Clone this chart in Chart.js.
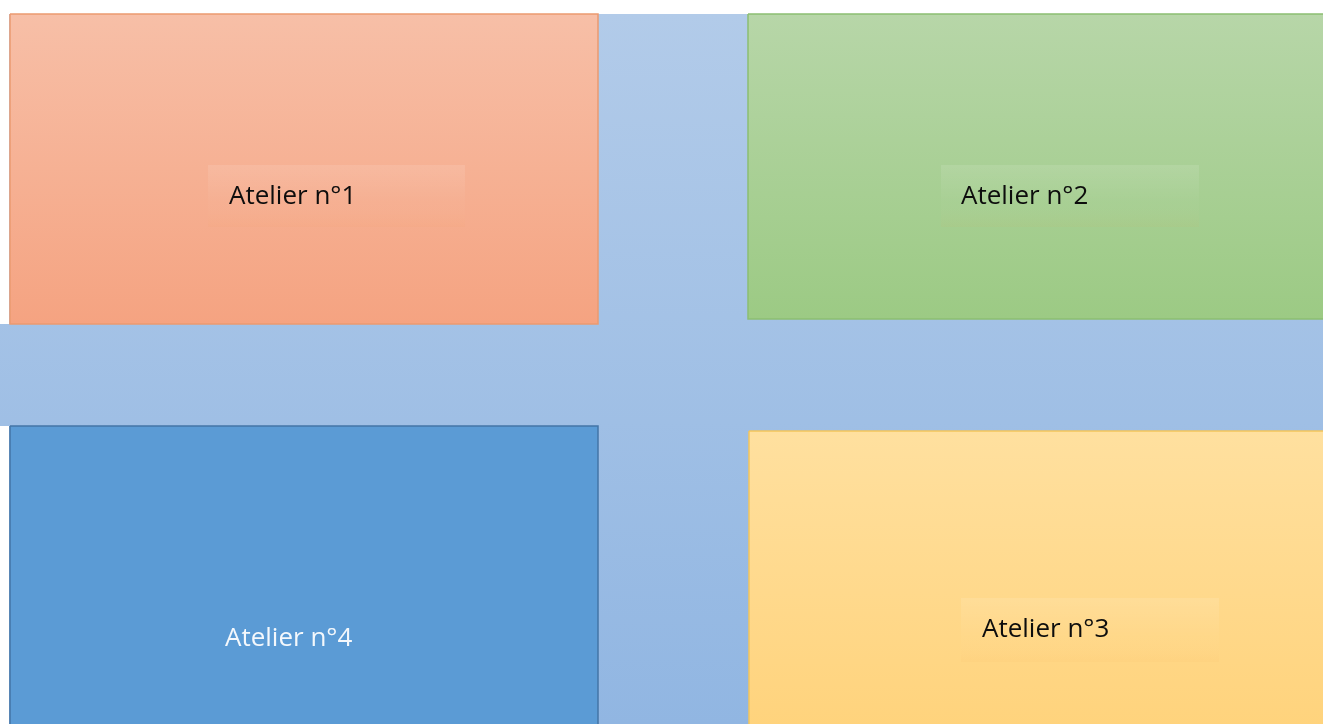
<!DOCTYPE html>
<html>
<head>
<meta charset="utf-8">
<script src="https://cdn.jsdelivr.net/npm/chart.js@4"></script>
<style>
html,body{margin:0;padding:0;background:#ffffff;}
#wrap{width:1323px;height:724px;position:relative;}
</style>
</head>
<body>
<div id="wrap"><canvas id="c" width="1323" height="724"></canvas></div>
<script>
// ---- data (diagram units, origin top-left) ----
const workshops   = ['Atelier n°1', 'Atelier n°2', 'Atelier n°3', 'Atelier n°4'];
const blockLeft   = [10, 748, 749, 10];
const blockRight  = [598, 1328, 1328, 598];
const blockTop    = [14, 14, 431, 426];
const blockBottom = [324, 319, 730, 730];
const labelLeft   = [208, 941, 961, null];
const labelRight  = [465, 1199, 1219, null];
const labelTop    = [165, 165, 598, null];
const labelBottom = [227, 227, 662, null];
const textX       = [229, 961, 982, 225];
const textY       = [204, 204, 637, 646];
const areaLeft = 0, areaRight = 1323, areaTop = 14, areaBottom = 724;

// ---- styles ----
const fillTop    = ['#f7bfa7', '#b7d6a8', '#ffe09f', '#5b9bd5'];
const fillBottom = ['#f5a381', '#9cca84', '#ffd37c', '#5b9bd5'];
const strokes    = ['#ec9a70', '#8cbf72', '#f3c55c', '#4475a6'];
const textColors = ['#0d0d0d', '#0d0d0d', '#0d0d0d', '#f4f8fc'];

function box(x0, x1, y0, y1) {
  return [{x:x0,y:y0},{x:x1,y:y0},{x:x1,y:y1},{x:x0,y:y1},{x:x0,y:y0}];
}
function vGrad(chart, top, bottom, c0, c1) {
  const y = chart.scales && chart.scales.y;
  if (!y) return c0;
  const p0 = y.getPixelForValue(top), p1 = y.getPixelForValue(bottom);
  if (!isFinite(p0) || !isFinite(p1)) return c0;
  const g = chart.ctx.createLinearGradient(0, p0, 0, p1);
  g.addColorStop(0, c0); g.addColorStop(1, c1);
  return g;
}

const datasets = [];
workshops.forEach((name, i) => {
  datasets.push({
    label: name,
    data: box(blockLeft[i], blockRight[i], blockTop[i], blockBottom[i]),
    showLine: true, fill: 'shape', tension: 0,
    pointRadius: 0, pointHoverRadius: 0, pointBorderWidth: 0,
    borderColor: strokes[i], borderWidth: 1.5,
    backgroundColor: (ctx) => vGrad(ctx.chart, blockTop[i], blockBottom[i], fillTop[i], fillBottom[i]),
    order: 1
  });
});
// page margin strips beside the left blocks
[0, 3].forEach(i => {
  datasets.push({
    label: 'margin' + i,
    data: box(areaLeft - 2, blockLeft[i] - 1, blockTop[i], blockBottom[i]),
    showLine: true, fill: 'shape', tension: 0,
    pointRadius: 0, pointHoverRadius: 0, pointBorderWidth: 0,
    borderWidth: 0, borderColor: 'rgba(0,0,0,0)', backgroundColor: '#ffffff',
    order: 5
  });
});
// blue floor area
datasets.push({
  label: 'floor',
  data: box(areaLeft - 2, areaRight + 2, areaTop, areaBottom + 6),
  showLine: true, fill: 'shape', tension: 0,
  pointRadius: 0, pointHoverRadius: 0, pointBorderWidth: 0,
  borderWidth: 0, borderColor: 'rgba(0,0,0,0)',
  backgroundColor: (ctx) => vGrad(ctx.chart, areaTop, areaBottom, '#b2cbe9', '#91b6e2'),
  order: 10
});

const labelPlugin = {
  id: 'labels',
  afterDatasetsDraw(chart) {
    const {ctx, scales:{x, y}} = chart;
    ctx.save();
    workshops.forEach((name, i) => {
      if (labelLeft[i] !== null) {
        const l = x.getPixelForValue(labelLeft[i]), r = x.getPixelForValue(labelRight[i]);
        const t = y.getPixelForValue(labelTop[i]), b = y.getPixelForValue(labelBottom[i]);
        const g = ctx.createLinearGradient(0, t, 0, b);
        g.addColorStop(0, 'rgba(255,255,255,0.11)');
        g.addColorStop(0.6, 'rgba(255,255,255,0.02)');
        g.addColorStop(1, 'rgba(240,150,60,0.05)');
        ctx.fillStyle = g;
        ctx.fillRect(l, t, r - l, b - t);
      }
      ctx.font = '26px "Open Sans", "Noto Sans", sans-serif';
      ctx.fillStyle = textColors[i];
      ctx.textAlign = 'left';
      ctx.textBaseline = 'alphabetic';
      ctx.fillText(name, x.getPixelForValue(textX[i]), y.getPixelForValue(textY[i]));
    });
    ctx.restore();
  }
};

const chart = new Chart(document.getElementById('c'), {
  type: 'scatter',
  data: { datasets },
  options: {
    responsive: false, animation: false, devicePixelRatio: 1,
    layout: { padding: 0, autoPadding: false },
    plugins: { legend: { display: false }, tooltip: { enabled: false } },
    events: [],
    scales: {
      x: { type: 'linear', min: areaLeft, max: areaRight, display: false },
      y: { type: 'linear', min: 0, max: areaBottom, reverse: true, display: false }
    }
  },
  plugins: [labelPlugin]
});
chart.update('none');
</script>
</body>
</html>
